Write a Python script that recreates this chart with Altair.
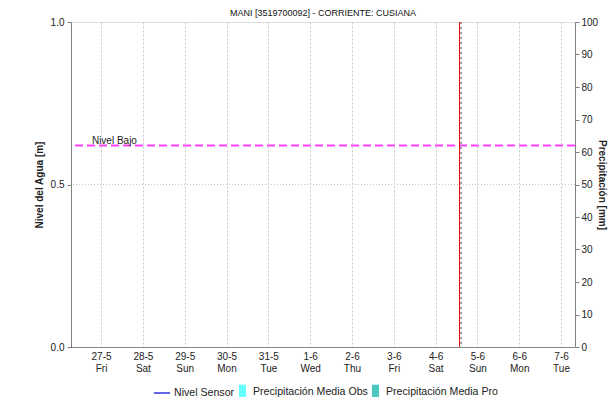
import altair as alt
import pandas as pd

# ---------------- data ----------------
titulo = "MANI [3519700092] - CORRIENTE: CUSIANA"
dias = ["2022-05-27", "2022-05-28", "2022-05-29", "2022-05-30", "2022-05-31",
        "2022-06-01", "2022-06-02", "2022-06-03", "2022-06-04", "2022-06-05",
        "2022-06-06", "2022-06-07"]
dominio_t = ["2022-05-26T06:45:00", "2022-06-07T08:00:00"]
ahora_t = ["2022-06-04T13:45:00"]
nivel_bajo_v = [0.62]
nivel_bajo_txt = ["Nivel Bajo"]
nivel_bajo_t = ["2022-05-26T18:45:00"]
y_izq_ticks = [0.0, 0.5, 1.0]
y_der_ticks = [0, 10, 20, 30, 40, 50, 60, 70, 80, 90, 100]
grid_y = [0.5]
series_nivel = ["Nivel Sensor"]
colores_nivel = ["#0000dd"]
series_precip = ["Precipitación Media Obs", "Precipitación Media Pro"]
colores_precip = ["#66ffff", "#4cc9c0"]
# no observations in the displayed window
sensor_t = []
sensor_v = []
precip_t = []
precip_v = []

FONT = "Liberation Sans"


def dt(s):
    p = pd.Timestamp(s)
    return alt.DateTime(year=p.year, month=p.month, date=p.day,
                        hours=p.hour, minutes=p.minute)


x_scale = alt.Scale(domain=[dt(dominio_t[0]), dt(dominio_t[1])], nice=False,
                    padding=0)
x_axis = alt.Axis(
    values=[dt(d) for d in dias],
    labelExpr="[timeFormat(datum.value, '%-d-%-m'), timeFormat(datum.value, '%a')]",
    title=None, grid=True, gridDash=[2, 2], gridColor="#c8c8c8",
    ticks=False, labelPadding=4, labelFontSize=10, labelLineHeight=12,
    labelColor="#222", labelFont=FONT, domainColor="#333", domainDash=[1, 1],
    domainWidth=1, zindex=1,
)


def xenc(field):
    return alt.X(f"{field}:T", scale=x_scale, axis=x_axis)


y_left_scale = alt.Scale(domain=[0, 1], nice=False, zero=False)
y_left_axis = alt.Axis(
    orient="left", values=y_izq_ticks, format=".1f", title="Nivel del Agua [m]",
    titleFontWeight="bold", titleFontSize=10, titleFont=FONT, titlePadding=6,
    titleColor="#222",
    labelFontSize=10, labelFont=FONT, labelColor="#222", tickSize=4,
    labelPadding=3,
    tickColor="#808080", domainColor="#808080", grid=False,
)


def yenc(field):
    return alt.Y(f"{field}:Q", scale=y_left_scale, axis=y_left_axis)


sensor_df = pd.DataFrame({"t": pd.Series(sensor_t, dtype="object"),
                          "nivel": pd.Series(sensor_v, dtype="float"),
                          "serie": pd.Series([], dtype="object")})

sensor = alt.Chart(sensor_df).mark_line(strokeWidth=1).encode(
    x=xenc("t"),
    y=yenc("nivel"),
    stroke=alt.Stroke(
        "serie:N",
        scale=alt.Scale(domain=series_nivel, range=colores_nivel),
        legend=alt.Legend(
            orient="none", legendX=82, legendY=362, direction="horizontal",
            title=None, symbolType="stroke", symbolSize=260, symbolStrokeWidth=1.2,
            labelFont=FONT, labelFontSize=10.6, labelColor="#222", labelOffset=3,
        ),
    ),
)

grid_df = pd.DataFrame({"nivel": grid_y})
grid05 = alt.Chart(grid_df).mark_rule(
    color="#c8c8c8", strokeDash=[1, 2], strokeWidth=1
).encode(y=yenc("nivel"))

bajo_df = pd.DataFrame({"nivel": nivel_bajo_v, "txt": nivel_bajo_txt, "t": nivel_bajo_t})
bajo_rule = alt.Chart(bajo_df).mark_rule(
    color="#ff40ff", strokeDash=[8, 4], strokeWidth=2
).encode(y=yenc("nivel"))
bajo_text = alt.Chart(bajo_df).mark_text(
    align="left", baseline="bottom", dy=0, fontSize=10, font=FONT, color="#222"
).encode(
    x=xenc("t"),
    y=yenc("nivel"),
    text="txt:N",
)

ahora_df = pd.DataFrame({"t": ahora_t})
ahora_red = alt.Chart(ahora_df).mark_rule(color="#e00000", strokeWidth=1).encode(
    x=xenc("t"))
ahora_dot = alt.Chart(ahora_df).mark_rule(
    color="#444", strokeWidth=1, strokeDash=[2, 3], xOffset=1.5
).encode(x=xenc("t"))

izquierda = alt.layer(sensor, grid05, bajo_rule, bajo_text, ahora_red, ahora_dot)

precip_df = pd.DataFrame({"t": pd.Series(precip_t, dtype="object"),
                          "p": pd.Series(precip_v, dtype="float"),
                          "serie": pd.Series([], dtype="object")})
precip = alt.Chart(precip_df).mark_bar().encode(
    x=xenc("t"),
    y=alt.Y("p:Q", scale=alt.Scale(domain=[0, 100], nice=False),
            axis=alt.Axis(
                orient="right", values=y_der_ticks, title="Precipitación [mm]",
                titleFontWeight="bold", titleFontSize=10, titleFont=FONT,
                titleColor="#222", titleAngle=90, titleBaseline="bottom",
                titleX=21, titleY=162.5,
                labelFontSize=10, labelFont=FONT,
                labelColor="#222", tickSize=4, labelPadding=2,
                tickColor="#808080", domainColor="#808080", grid=False)),
    fill=alt.Fill(
        "serie:N",
        scale=alt.Scale(domain=series_precip, range=colores_precip),
        legend=alt.Legend(
            orient="none", legendX=164, legendY=362, direction="horizontal",
            title=None, symbolType="M-0.5,-1H0.5V1H-0.5Z", symbolSize=200,
            symbolStrokeWidth=0, columnPadding=0,
            labelFont=FONT, labelFontSize=10.6, labelColor="#222", labelOffset=3,
        ),
    ),
)

chart = alt.layer(izquierda, precip).resolve_scale(y="independent").properties(
    width=504, height=325,
    title=alt.TitleParams(titulo, fontSize=9, font=FONT,
                          fontWeight="normal",
                          color="#111", anchor="middle", offset=4, dy=5),
    autosize=alt.AutoSizeParams(type="none"),
    padding={"left": 63, "top": 14, "right": 33, "bottom": 50},
).configure_view(stroke="#808080", strokeWidth=1).configure(background="white")

chart.save("out.html", embed_options={"renderer": "svg", "actions": False})
